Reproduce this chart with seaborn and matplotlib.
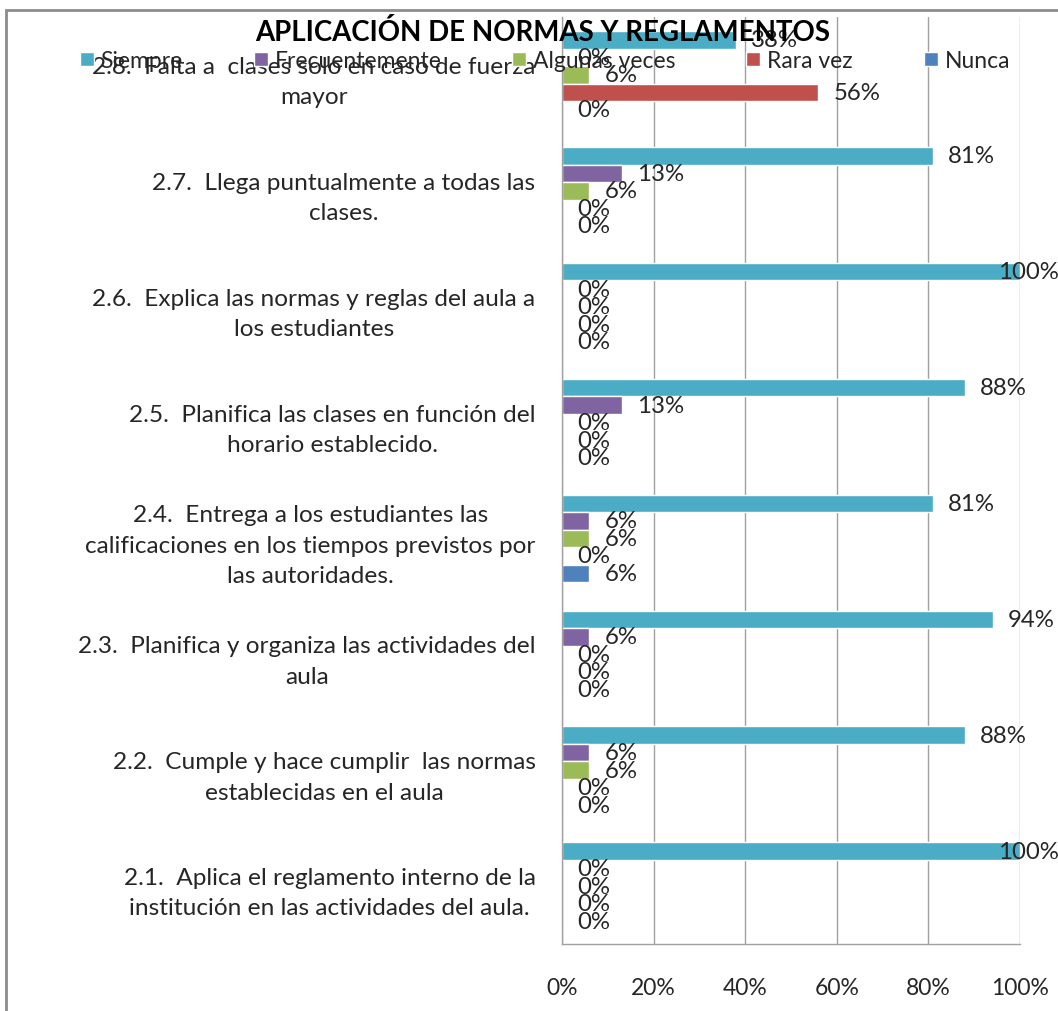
import numpy as np, pandas as pd
import matplotlib as mpl; mpl.use("Agg")
import matplotlib.pyplot as plt
from matplotlib.patches import Patch, Rectangle
import seaborn as sns

ITEMS=["2.8.  Falta a  clases solo en caso de fuerza\nmayor",
       "2.7.  Llega puntualmente a todas las\nclases.",
       "2.6.  Explica las normas y reglas del aula a\nlos estudiantes",
       "2.5.  Planifica las clases en función del\nhorario establecido.",
       "2.4.  Entrega a los estudiantes las\ncalificaciones en los tiempos previstos por\nlas autoridades.",
       "2.3.  Planifica y organiza las actividades del\naula",
       "2.2.  Cumple y hace cumplir  las normas\nestablecidas en el aula",
       "2.1.  Aplica el reglamento interno de la\ninstitución en las actividades del aula."]
RESP=["Siempre","Frecuentemente","Algunas veces","Rara vez","Nunca"]
SIEMPRE=[38,81,100,88,81,94,88,100]
FRECUENTE=[0,13,0,13,6,6,6,0]
ALGUNAS=[6,6,0,0,6,0,6,0]
RARA=[56,0,0,0,0,0,0,0]
NUNCA=[0,0,0,0,6,0,0,0]
PAL={"Siempre":"#4BACC6","Frecuentemente":"#8064A2","Algunas veces":"#9BBB59","Rara vez":"#C0504D","Nunca":"#4F81BD"}
TICKS=[0,20,40,60,80,100]

sns.set_theme(style="white")
plt.rcParams["font.family"]=["Lato","DejaVu Sans"]
TXT="#262626"; GRID="#A0A0A0"

df=pd.DataFrame({"item":np.repeat(ITEMS,5),"resp":RESP*len(ITEMS),
                 "pct":np.ravel(np.column_stack([SIEMPRE,FRECUENTE,ALGUNAS,RARA,NUNCA]))})

fig=plt.figure(figsize=(10.58,10.12),dpi=100)
ax=fig.add_axes([0.5312,0.0662,0.4329,0.916])
sns.barplot(data=df,y="item",x="pct",hue="resp",order=ITEMS,hue_order=RESP,palette=PAL,
            orient="h",width=0.755,gap=0,legend=False,ax=ax,errorbar=None,saturation=1)
for c in ax.containers:
    anns=ax.bar_label(c,labels=[f"{v:.0f}%" for v in c.datavalues],padding=11,fontsize=17.3,color=TXT)
    for a,v in zip(anns,c.datavalues):
        if v>=100: a.xyann=(-16,a.xyann[1])   # keep full-width labels inside the chart

ax.set_xlim(0,100); ax.set_xticks(TICKS); ax.set_xticklabels([f"{t}%" for t in TICKS])
ax.set_xlabel(""); ax.set_ylabel("")
ax.grid(axis="x",color=GRID,lw=1); ax.grid(axis="y",visible=False)
for s in ("top","right"): ax.spines[s].set_visible(False)
for s in ("left","bottom"): ax.spines[s].set_color(GRID); ax.spines[s].set_linewidth(1)
ax.tick_params(axis="x",length=0,pad=24,labelsize=16.5,labelcolor=TXT)
ax.tick_params(axis="y",length=0,pad=19,labelsize=17.6,labelcolor=TXT)
for t in ax.get_yticklabels(): t.set_multialignment("center"); t.set_linespacing(1.55)

fig.text(0.513,0.968,"APLICACIÓN DE NORMAS Y REGLAMENTOS",ha="center",va="center",fontsize=19.9,fontweight="bold",color="black")
handles=[Patch(facecolor=PAL[r],label=r) for r in RESP]
fig.legend(handles=handles,loc="center",bbox_to_anchor=(0.515,0.939),ncol=5,frameon=False,
           fontsize=16.5,handlelength=0.6,handleheight=0.6,handletextpad=0.3,columnspacing=3.1,labelcolor=TXT)
fig.add_artist(Rectangle((0.0057,-0.05),1.1,0.9891+0.05,transform=fig.transFigure,fill=False,ec="#8C8C8C",lw=2))
fig.savefig("out.png",dpi=100)
